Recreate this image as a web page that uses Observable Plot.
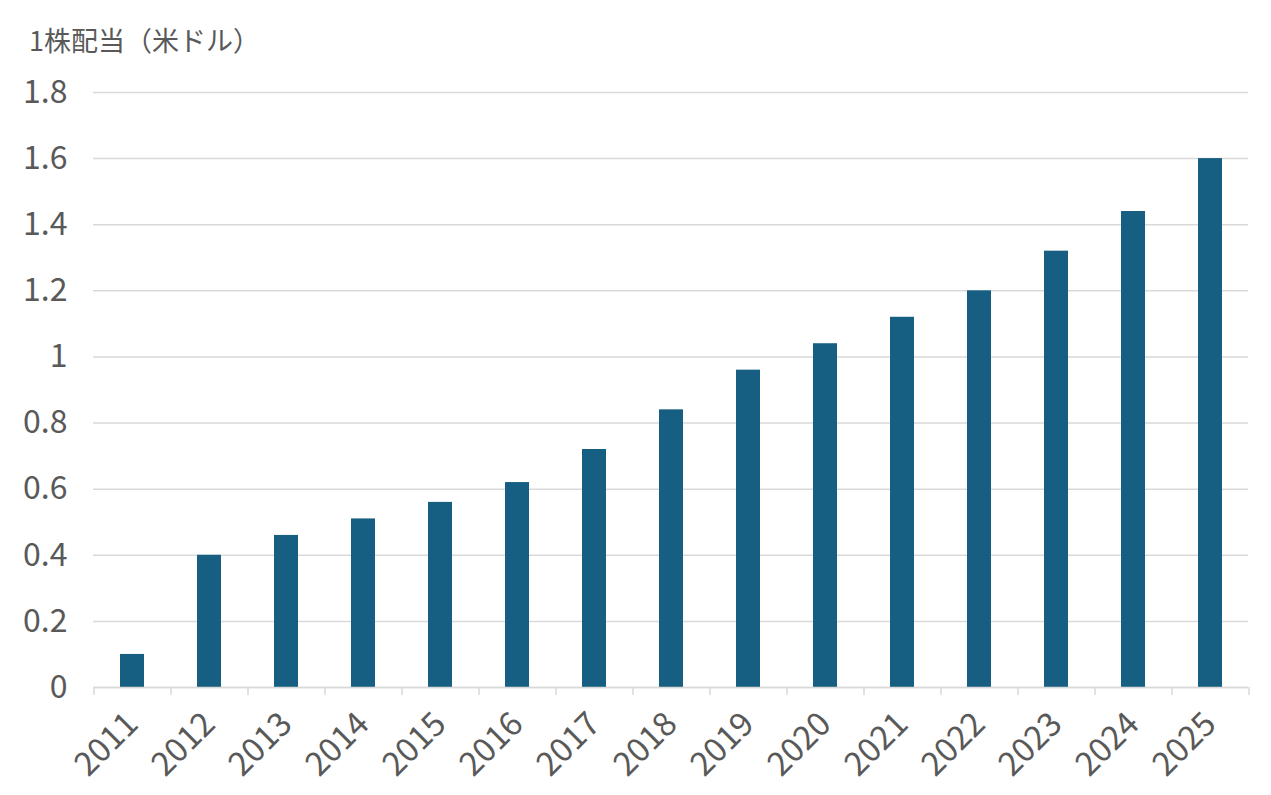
<!DOCTYPE html>
<html>
<head>
<meta charset="utf-8">
<script src="https://cdn.jsdelivr.net/npm/d3@7"></script>
<script src="https://cdn.jsdelivr.net/npm/@observablehq/plot@0.6"></script>
<style>
  body { margin: 0; background: #fff; font-family: "Noto Sans CJK JP", "Noto Sans", sans-serif; }
  #wrap { position: relative; width: 1271px; height: 795px; }
  #title { position: absolute; left: 29px; top: 20px; font-size: 27px; color: #595959; white-space: nowrap; }
</style>
</head>
<body>
<div id="wrap">
  <div id="title">1株配当（米ドル）</div>
  <div id="chart"></div>
</div>
<script>
const years = ["2011","2012","2013","2014","2015","2016","2017","2018","2019","2020","2021","2022","2023","2024","2025"];
const dividends = [0.10, 0.40, 0.46, 0.51, 0.56, 0.62, 0.72, 0.84, 0.96, 1.04, 1.12, 1.20, 1.32, 1.44, 1.60];
const yTicks = [0, 0.2, 0.4, 0.6, 0.8, 1, 1.2, 1.4, 1.6, 1.8];

const data = years.map((y, i) => ({year: y, value: dividends[i]}));

const W = 1271, H = 795;
const mL = 93, mR = 23, mT = 92, mB = 108;
const step = (W - mL - mR) / years.length;
const gray = "#d9d9d9";
const textColor = "#595959";

const chart = Plot.plot({
  width: W,
  height: H,
  marginLeft: mL,
  marginRight: mR,
  marginTop: mT,
  marginBottom: mB,
  style: {fontFamily: "'Noto Sans CJK JP', 'Noto Sans', sans-serif", color: textColor, background: "#fff"},
  x: {type: "band", domain: years, paddingInner: 0.69, paddingOuter: 0.345, label: null},
  y: {domain: [0, 1.8], label: null},
  marks: [
    Plot.gridY(yTicks, {stroke: gray, strokeOpacity: 1, strokeWidth: 1.5}),
    Plot.axisY(yTicks, {tickSize: 0, tickPadding: 26, fontSize: 32, fill: textColor, tickFormat: d => String(+d.toFixed(1)), label: null}),
    Plot.barY(data, {x: "year", y: "value", fill: "#165f82"}),
    Plot.ruleY([0], {stroke: gray, strokeWidth: 1.5}),
    Plot.ruleX(years, {x: d => d, dx: -step / 2, y1: 0, y2: 0, insetBottom: -8, stroke: gray, strokeWidth: 1.5}),
    Plot.ruleX(years.slice(-1), {x: d => d, dx: step / 2, y1: 0, y2: 0, insetBottom: -8, stroke: gray, strokeWidth: 1.5}),
    Plot.axisX({tickSize: 0, tickPadding: 31, tickRotate: -45, fontSize: 33, fill: textColor, label: null})
  ]
});
document.getElementById("chart").appendChild(chart);
</script>
</body>
</html>
